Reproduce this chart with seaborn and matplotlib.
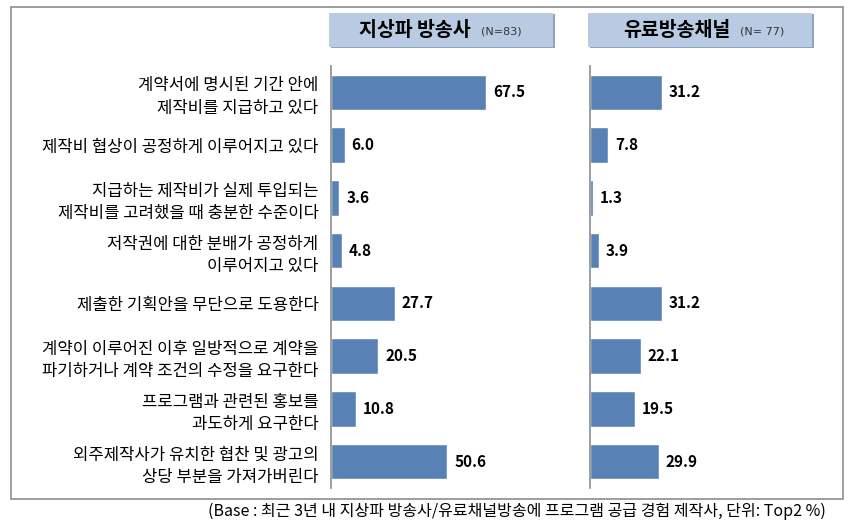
import matplotlib
matplotlib.use("Agg")
import matplotlib.pyplot as plt
from matplotlib.patches import Rectangle
import seaborn as sns
import pandas as pd

sns.set_theme(style="white")
plt.rcParams['font.family'] = ['Noto Sans CJK KR', 'DejaVu Sans']

categories = [
    "계약서에 명시된 기간 안에\n제작비를 지급하고 있다",
    "제작비 협상이 공정하게 이루어지고 있다",
    "지급하는 제작비가 실제 투입되는\n제작비를 고려했을 때 충분한 수준이다",
    "저작권에 대한 분배가 공정하게\n이루어지고 있다",
    "제출한 기획안을 무단으로 도용한다",
    "계약이 이루어진 이후 일방적으로 계약을\n파기하거나 계약 조건의 수정을 요구한다",
    "프로그램과 관련된 홍보를\n과도하게 요구한다",
    "외주제작사가 유치한 협찬 및 광고의\n상당 부분을 가져가버린다",
]
terrestrial = [67.5, 6.0, 3.6, 4.8, 27.7, 20.5, 10.8, 50.6]
paytv = [31.2, 7.8, 1.3, 3.9, 31.2, 22.1, 19.5, 29.9]
panel_titles = ["지상파 방송사", "유료방송채널"]
panel_n = ["(N=83)", "(N= 77)"]
note = "(Base : 최근 3년 내 지상파 방송사/유료채널방송에 프로그램 공급 경험 제작사, 단위: Top2 %)"

W, H = 857, 529
fig = plt.figure(figsize=(W / 100, H / 100), dpi=100)

def fx(px):
    return px / W

def fy(py):
    return 1 - py / H

bar_color = "#5882B6"
axis_color = "#8C8C8C"

# outer frame
fig.patches.append(Rectangle((fx(11), fy(499)), fx(843 - 11), (499 - 7) / H,
                             transform=fig.transFigure, fill=False,
                             edgecolor=axis_color, linewidth=1.2))

panel_left = [331, 590]
panel_width = 230
top_px, bot_px = 66, 488

series = [terrestrial, paytv]
for i in range(2):
    ax = fig.add_axes([fx(panel_left[i]), fy(bot_px), fx(panel_width), (bot_px - top_px) / H])
    df = pd.DataFrame({"cat": categories, "val": series[i]})
    sns.barplot(data=df, x="val", y="cat", orient="h", color=bar_color,
                saturation=1, width=0.67, ax=ax)
    ax.set_xlim(0, 100)
    ax.set_ylim(len(categories) - 0.5, -0.5)
    for s in ["top", "right", "bottom"]:
        ax.spines[s].set_visible(False)
    ax.spines["left"].set_color(axis_color)
    ax.spines["left"].set_linewidth(1.2)
    ax.set_xticks([])
    ax.set_xlabel("")
    ax.set_ylabel("")
    ax.tick_params(axis="y", length=0, pad=9)
    if i == 0:
        for lab in ax.get_yticklabels():
            lab.set_fontsize(12)
            lab.set_linespacing(1.4)
            lab.set_color("black")
    else:
        ax.set_yticklabels([])
    for c in ax.containers:
        ax.bar_label(c, fmt="%.1f", padding=5, fontsize=11, fontweight="bold",
                     color="black")
    ax.patch.set_alpha(0)

    # header box
    hx0 = panel_left[i] - 2
    hx1 = hx0 + 224
    hy0, hy1 = 13, 47
    fig.patches.append(Rectangle((fx(hx0 + 2), fy(hy1 + 1)), fx(hx1 - hx0), (hy1 - hy0) / H,
                                 transform=fig.transFigure, facecolor="#8FA3BC",
                                 edgecolor="none"))
    fig.patches.append(Rectangle((fx(hx0), fy(hy1)), fx(hx1 - hx0), (hy1 - hy0) / H,
                                 transform=fig.transFigure, facecolor="#B8CBE3",
                                 edgecolor="none"))
    fig.text(fx(hx0 + 142), fy(31), panel_titles[i], ha="right", va="center",
             fontsize=14, fontweight="bold", color="black")
    fig.text(fx(hx0 + 152), fy(32), panel_n[i], ha="left", va="center",
             fontsize=8, color="#333333", family=["DejaVu Sans"])

fig.text(fx(826), fy(511), note, ha="right", va="center", fontsize=11.5, color="black")

fig.savefig("out.png", dpi=100)
